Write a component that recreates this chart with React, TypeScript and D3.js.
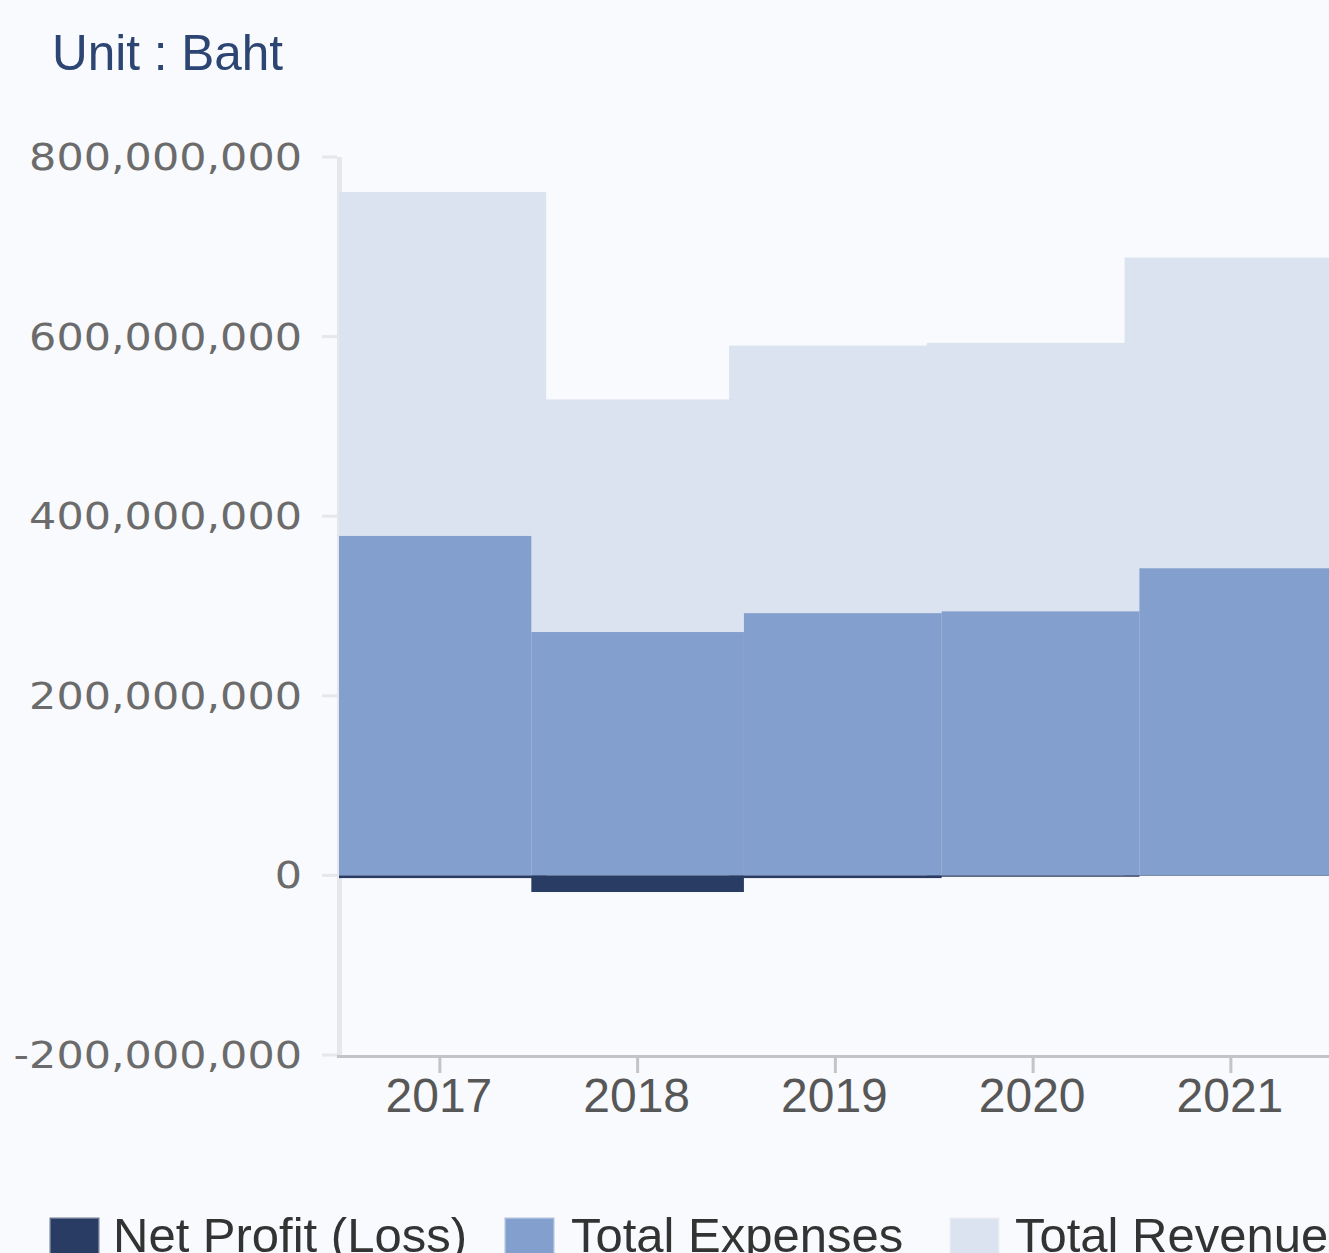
import React from 'react';
import * as d3 from 'd3';

const years = ['2017', '2018', '2019', '2020', '2021'];
const totalRevenue = [761e6, 530e6, 590e6, 593e6, 688e6];
const totalExpenses = [378e6, 271e6, 292e6, 294e6, 342e6];
const netProfit = [-3e6, -18.5e6, -3e6, -1.5e6, -0.5e6];
const yTicks = [-200e6, 0, 200e6, 400e6, 600e6, 800e6];
const seriesNames = ['Net Profit (Loss)', 'Total Expenses', 'Total Revenue'];
const seriesColors = ['#283c64', '#829fcd', '#dbe2f0'];

const W = 1329;
const H = 1253;
const plotLeft = 339;

export default function App() {
  const x = d3.scaleBand<string>().domain(years).range([341, 341 + 5 * 197.75]).paddingInner(0).paddingOuter(0);
  const y = d3.scaleLinear().domain([-200e6, 800e6]).range([1055, 157]);
  const bw = x.bandwidth() * 1.075;
  const cx = (yr: string) => (x(yr) as number) + x.bandwidth() / 2;
  const fmt = (v: number) => d3.format(',')(v).replace('\u2212', '-');

  // groups drawn in order of descending revenue (tallest first)
  const order = d3.range(years.length).sort((a, b) => totalRevenue[b] - totalRevenue[a]);

  const barRect = (i: number, v: number, fill: string, key: string) => {
    const y0 = y(0);
    const y1 = y(v);
    return (
      <rect
        key={key}
        x={cx(years[i]) - bw / 2}
        width={bw}
        y={Math.min(y0, y1)}
        height={Math.abs(y1 - y0)}
        fill={fill}
      />
    );
  };

  const legendX = [48, 503, 948];
  const legendTextX = [113, 571, 1015];

  return (
    <svg
      width={W}
      height={H}
      style={{ position: 'absolute', left: 0, top: 0, display: 'block' }}
    >
      <rect x={0} y={0} width={W} height={H} fill="#f9fafd" />
      <defs>
        <clipPath id="plotClip">
          <rect x={plotLeft} y={0} width={W - plotLeft} height={1056} />
        </clipPath>
      </defs>

      <text x={52} y={70} fontFamily="'Liberation Sans', Arial, sans-serif" fontSize={49.5} fill="#2c4573">
        Unit : Baht
      </text>

      {/* y axis line and ticks */}
      <line x1={339.5} x2={339.5} y1={y(800e6)} y2={y(-200e6)} stroke="#e6e7ea" strokeWidth={5} />
      {yTicks.map((t) => (
        <g key={'yt' + t}>
          <line x1={322} x2={337} y1={y(t)} y2={y(t)} stroke="#e6e7ea" strokeWidth={3} />
          <g transform={`translate(302,${y(t) + 13}) scale(1.16,1)`}>
            <text
              x={0}
              y={0}
              textAnchor="end"
              fontFamily="'DejaVu Sans', sans-serif"
              fontSize={37}
              fill="#6b6b6b"
            >
              {fmt(t)}
            </text>
          </g>
        </g>
      ))}

      {/* bars */}
      <g clipPath="url(#plotClip)">
        {order.map((i) => (
          <g key={'grp' + years[i]}>
            {barRect(i, totalRevenue[i], seriesColors[2], 'r')}
            {barRect(i, totalExpenses[i], seriesColors[1], 'e')}
            {barRect(i, netProfit[i], seriesColors[0], 'n')}
          </g>
        ))}
      </g>

      {/* x axis */}
      <line x1={337} x2={W} y1={1056.5} y2={1056.5} stroke="#c4c4c6" strokeWidth={3} />
      {years.map((yr) => (
        <g key={'xt' + yr}>
          <line x1={cx(yr)} x2={cx(yr)} y1={1058} y2={1073} stroke="#c4c4c6" strokeWidth={3} />
          <text
            x={cx(yr) - 1}
            y={1112}
            textAnchor="middle"
            fontFamily="'Liberation Sans', Arial, sans-serif"
            fontSize={48}
            fill="#575757"
          >
            {yr}
          </text>
        </g>
      ))}

      {/* legend */}
      {seriesNames.map((name, k) => (
        <g key={'lg' + name}>
          <rect
            x={legendX[k] + 1.5}
            y={1217.5}
            width={50}
            height={50}
            fill={seriesColors[k]}
            stroke="#ffffff"
            strokeOpacity={0.3}
            strokeWidth={3}
          />
          <text
            x={legendTextX[k]}
            y={1252}
            fontFamily="'Liberation Sans', Arial, sans-serif"
            fontSize={49}
            fill="#333333"
          >
            {name}
          </text>
        </g>
      ))}
    </svg>
  );
}
